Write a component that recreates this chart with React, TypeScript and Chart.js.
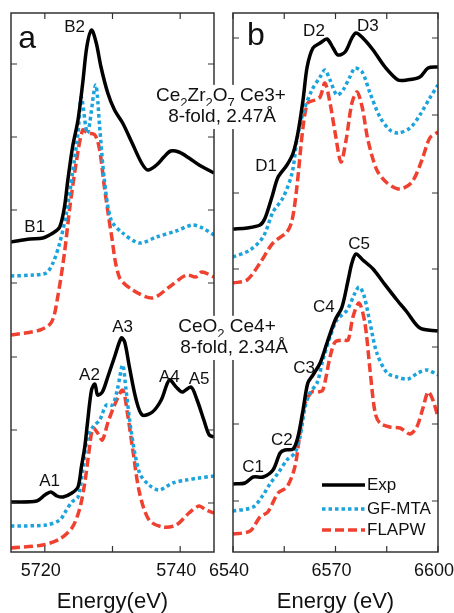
import React, { useEffect, useRef } from 'react';
import { Chart, registerables } from 'chart.js';
Chart.register(...registerables);

const FONT = "'Liberation Sans', Arial, Helvetica, sans-serif";
const BLACK = '#000000';
const BLUE = '#1aa3dc';
const RED = '#ef4030';
const TEXT = '#111111';

// ---------- Panel a (5715–5745 eV) ----------
// Ce2Zr2O7 (upper set)
const expTopA_E = [5715, 5717.8, 5719.7, 5721.2, 5722.2, 5722.9, 5723.4, 5724.1, 5724.9, 5725.6, 5726.2, 5726.9, 5727.6, 5728.3, 5729.3, 5730.3, 5731.5, 5732.9, 5734.3, 5735.2, 5736.5, 5737.6, 5738.6, 5739.8, 5741.3, 5742.8, 5745];
const expTopA_I = [31.0, 31.3, 31.4, 31.9, 32.5, 34.5, 37.2, 40.5, 43.2, 46.9, 50.5, 52.2, 50.9, 48.5, 45.9, 44.2, 42.9, 40.9, 38.9, 38.2, 38.7, 39.5, 40.1, 40.0, 39.4, 38.7, 37.9];
const gfTopA_E = [5715, 5718.3, 5720.2, 5721.2, 5722.2, 5723.2, 5724.1, 5724.9, 5725.4, 5726.3, 5727.5, 5728.1, 5728.8, 5729.8, 5731.5, 5734.0, 5736.5, 5739.4, 5741.8, 5743.3, 5745];
const gfTopA_I = [27.6, 27.7, 27.9, 28.9, 30.9, 33.9, 37.9, 41.9, 45.5, 41.9, 46.7, 42.5, 37.2, 33.2, 31.9, 30.9, 31.5, 32.1, 32.7, 32.4, 31.7];
const flTopA_E = [5715, 5719.3, 5721.0, 5721.9, 5722.9, 5723.7, 5724.7, 5725.6, 5726.3, 5727.4, 5728.1, 5728.8, 5729.8, 5731.0, 5733.0, 5735.9, 5738.4, 5740.9, 5742.3, 5743.2, 5745];
const flTopA_I = [21.7, 22.2, 23.0, 25.5, 29.9, 34.5, 39.2, 42.2, 41.9, 41.7, 40.2, 36.5, 31.9, 27.5, 26.2, 25.4, 26.5, 27.7, 27.5, 28.0, 27.5];
// CeO2 (lower set)
const expBotA_E = [5715, 5718.8, 5720, 5720.9, 5721.8, 5722.7, 5724.0, 5724.9, 5725.4, 5725.9, 5726.3, 5726.9, 5727.4, 5727.8, 5728.5, 5729.3, 5730.3, 5731.3, 5731.8, 5732.5, 5733.5, 5734.4, 5735.9, 5737.2, 5738.4, 5739.4, 5740.3, 5741.6, 5742.5, 5743.5, 5744.3, 5745];
const expBotA_I = [5.0, 5.1, 5.7, 6.0, 5.6, 5.5, 5.9, 6.5, 8.5, 10.5, 12.9, 16.2, 16.8, 15.7, 16.0, 17.5, 19.5, 21.4, 21.0, 18.5, 15.2, 13.7, 14.0, 15.2, 17.2, 16.5, 16.0, 16.5, 15.2, 13.2, 11.7, 11.5];
const gfBotA_E = [5715, 5720.2, 5722.2, 5723.2, 5724.0, 5724.9, 5725.6, 5726.3, 5727.1, 5728.1, 5729.1, 5730.0, 5730.7, 5731.5, 5732.0, 5732.8, 5734.0, 5735.4, 5736.9, 5738.9, 5740.9, 5742.8, 5745];
const gfBotA_I = [2.6, 2.7, 3.2, 4.2, 5.0, 5.5, 8.2, 11.5, 12.5, 13.2, 14.7, 14.7, 16.2, 18.7, 16.2, 11.9, 7.9, 6.7, 6.2, 6.9, 7.2, 7.4, 7.6];
const flBotA_E = [5715, 5719.7, 5722.2, 5724.0, 5725.1, 5725.9, 5726.5, 5727.1, 5727.8, 5728.5, 5729.3, 5730.3, 5731.5, 5732.2, 5733.0, 5734.0, 5735.4, 5737.4, 5739.4, 5741.3, 5742.8, 5743.8, 5745];
const flBotA_I = [0.4, 0.7, 1.3, 2.4, 4.2, 6.9, 9.9, 12.4, 11.9, 11.2, 12.9, 14.7, 16.2, 13.9, 10.2, 5.9, 3.2, 2.5, 2.7, 3.9, 4.6, 4.2, 3.9];

// ---------- Panel b (6540–6600 eV) ----------
const expTopB_E = [6540, 6544.1, 6547.9, 6549.4, 6551.4, 6553.2, 6555.8, 6557.6, 6559.0, 6560.5, 6561.7, 6563.4, 6565.5, 6567.5, 6569.3, 6570.7, 6572.8, 6574.8, 6576.0, 6578.0, 6581.0, 6584.5, 6588.3, 6590.9, 6594.7, 6597.1, 6600];
const expTopB_I = [32.3, 32.4, 32.7, 33.4, 35.5, 37.5, 38.7, 39.9, 41.9, 45.2, 48.5, 50.4, 50.9, 51.3, 50.4, 49.7, 50.0, 51.4, 51.9, 51.4, 50.2, 48.5, 47.2, 47.2, 47.5, 48.4, 48.5];
const gfTopB_E = [6540, 6545.0, 6548.8, 6551.7, 6554.6, 6557.3, 6558.7, 6560.5, 6563.1, 6565.5, 6566.9, 6568.4, 6570.4, 6572.2, 6574.2, 6575.7, 6577.8, 6580.1, 6583.0, 6585.9, 6588.3, 6591.8, 6594.7, 6597.6, 6600];
const gfTopB_I = [29.5, 30.2, 31.5, 34.0, 35.4, 37.9, 41.2, 43.9, 46.2, 47.5, 48.2, 47.2, 45.7, 46.2, 47.5, 48.4, 48.0, 45.9, 43.5, 42.2, 41.9, 42.4, 43.7, 45.4, 46.7];
const flTopB_E = [6540, 6544.1, 6547.9, 6551.7, 6555.8, 6557.3, 6558.7, 6560.5, 6561.9, 6564.0, 6565.5, 6566.9, 6568.4, 6569.9, 6571.6, 6573.1, 6574.8, 6576.3, 6577.8, 6579.5, 6582.1, 6585.1, 6588.9, 6592.4, 6595.3, 6597.6, 6600];
const flTopB_I = [26.9, 27.2, 28.9, 30.9, 32.0, 33.2, 36.5, 42.5, 44.9, 45.2, 45.5, 46.9, 44.9, 41.9, 39.0, 41.2, 44.9, 46.0, 44.5, 41.2, 38.2, 36.9, 36.3, 37.0, 39.2, 41.4, 42.0];
const expBotB_E = [6540, 6543.5, 6545.9, 6548.8, 6551.7, 6553.8, 6555.2, 6557.6, 6559.0, 6560.5, 6561.9, 6563.4, 6565.5, 6567.5, 6569.9, 6571.9, 6573.7, 6574.8, 6576.0, 6578.0, 6581.0, 6583.9, 6588.0, 6590.9, 6594.7, 6600];
const expBotB_I = [6.8, 6.9, 7.5, 7.5, 8.2, 9.9, 10.2, 10.3, 11.5, 14.2, 16.9, 17.7, 18.9, 20.9, 23.2, 24.5, 27.2, 28.9, 29.8, 29.2, 28.3, 27.0, 25.2, 24.0, 22.4, 22.1];
const gfBotB_E = [6540, 6545.9, 6548.8, 6550.8, 6553.2, 6555.8, 6558.1, 6559.6, 6561.1, 6562.5, 6564.6, 6566.3, 6568.4, 6570.4, 6573.4, 6575.7, 6576.9, 6578.3, 6580.1, 6582.1, 6585.1, 6588.0, 6591.2, 6594.1, 6596.8, 6600];
const gfBotB_I = [4.1, 4.5, 5.7, 6.8, 7.9, 9.2, 9.9, 11.5, 14.5, 15.9, 16.9, 19.2, 21.5, 23.2, 24.2, 25.9, 26.5, 25.7, 22.9, 19.9, 17.9, 17.5, 17.3, 17.9, 18.2, 17.7];
const flBotB_E = [6540, 6545.0, 6547.9, 6550.2, 6553.2, 6555.8, 6558.1, 6559.6, 6561.1, 6563.1, 6564.9, 6566.3, 6568.4, 6569.9, 6572.2, 6573.7, 6575.1, 6576.9, 6578.6, 6580.1, 6581.6, 6583.0, 6585.9, 6588.9, 6591.8, 6593.8, 6595.6, 6597.1, 6598.5, 6600];
const flBotB_I = [1.8, 2.1, 3.5, 4.0, 5.9, 6.5, 8.5, 11.9, 14.9, 16.0, 16.0, 16.2, 19.5, 21.0, 21.2, 21.2, 23.5, 24.9, 22.9, 18.2, 13.9, 12.9, 12.5, 12.4, 11.8, 12.5, 14.4, 16.0, 15.2, 13.5];

// ---------- Axes ----------
const xRangeA = [5715, 5745];
const xTicksA = [5720, 5730, 5740];
const xLabelsA = [5720, 5740];
const xRangeB = [6540, 6600];
const xTicksB = [6540, 6555, 6570, 6585, 6600];
const xLabelsB = [6540, 6570, 6600];
const yRange = [0, 53.9];
const yTicksA = [4.9, 12.2, 19.5, 26.9, 34.2, 41.5, 48.8];
const yTicksB = [5.1, 12.8, 20.5, 28.3, 35.9, 43.7, 51.4];
const xTitleA = 'Energy(eV)';
const xTitleB = 'Energy (eV)';

// ---------- Labels ----------
const panelLetterA = { text: 'a', e: 5717.4, v: 51.3 };
const panelLetterB = { text: 'b', e: 6546.7, v: 51.6 };
const peaksA = [
  { text: 'B2', e: 5724.4, v: 52.5 },
  { text: 'B1', e: 5718.5, v: 32.5 },
  { text: 'A1', e: 5720.7, v: 7.1 },
  { text: 'A2', e: 5726.6, v: 17.7 },
  { text: 'A3', e: 5731.5, v: 22.5 },
  { text: 'A4', e: 5738.4, v: 17.5 },
  { text: 'A5', e: 5742.8, v: 17.3 },
];
const peaksB = [
  { text: 'D2', e: 6563.7, v: 52.1 },
  { text: 'D3', e: 6579.5, v: 52.6 },
  { text: 'D1', e: 6549.7, v: 38.6 },
  { text: 'C5', e: 6576.9, v: 30.8 },
  { text: 'C4', e: 6566.6, v: 24.5 },
  { text: 'C3', e: 6560.8, v: 18.4 },
  { text: 'C2', e: 6554.3, v: 11.2 },
  { text: 'C1', e: 6545.9, v: 8.5 },
];
const seriesNames = ['Exp', 'GF-MTA', 'FLAPW'];
type Seg = { t: string; sub?: boolean };
const annotations: { segs: Seg[]; dx: number; v: number }[] = [
  { segs: [{ t: 'Ce' }, { t: '2', sub: true }, { t: 'Zr' }, { t: '2', sub: true }, { t: 'O' }, { t: '7', sub: true }, { t: ' Ce3+' }], dx: -12, v: 45.1 },
  { segs: [{ t: '8-fold, 2.47Å' }], dx: -11, v: 43.0 },
  { segs: [{ t: 'CeO' }, { t: '2', sub: true }, { t: ' Ce4+' }], dx: -6, v: 22.0 },
  { segs: [{ t: '8-fold, 2.34Å' }], dx: 1, v: 19.9 },
];

const styles = [
  { color: BLACK, width: 3.5, dash: [] as number[] },
  { color: BLUE, width: 3.5, dash: [3.5, 3] },
  { color: RED, width: 3.5, dash: [9, 4] },
];

function pts(E: number[], I: number[]) {
  return E.map((e, i) => ({ x: e, y: I[i] }));
}

function ds(label: string, k: number, E: number[], I: number[]) {
  const s = styles[k];
  return {
    label,
    data: pts(E, I),
    borderColor: s.color,
    borderWidth: s.width,
    borderDash: s.dash,
    borderJoinStyle: 'round',
    borderCapStyle: 'butt',
    pointRadius: 0,
    fill: false,
    tension: 0.3,
  };
}

function drawRich(ctx: CanvasRenderingContext2D, segs: Seg[], cx: number, baseline: number, size: number) {
  const sub = Math.round(size * 0.68);
  let w = 0;
  const widths = segs.map((s) => {
    ctx.font = `${s.sub ? sub : size}px ${FONT}`;
    const m = ctx.measureText(s.t).width;
    w += m;
    return m;
  });
  let x = cx - w / 2;
  ctx.fillStyle = '#ffffff';
  ctx.fillRect(x - 3, baseline - size * 0.85, w + 6, size * 1.22);
  ctx.fillStyle = TEXT;
  ctx.textAlign = 'left';
  ctx.textBaseline = 'alphabetic';
  segs.forEach((s, i) => {
    ctx.font = `${s.sub ? sub : size}px ${FONT}`;
    ctx.fillText(s.t, x, baseline + (s.sub ? size * 0.3 : 0));
    x += widths[i];
  });
}

function makePlugin(p: any) {
  return {
    id: 'decor' + p.id,
    afterDraw(chart: any) {
      const ctx: CanvasRenderingContext2D = chart.ctx;
      const { left, right, top, bottom } = chart.chartArea;
      const xs = chart.scales.x;
      const ys = chart.scales.y;
      ctx.save();
      // frame
      ctx.strokeStyle = '#333333';
      ctx.lineWidth = 1.5;
      ctx.setLineDash([]);
      ctx.strokeRect(left, top, right - left, bottom - top);
      // inward ticks
      ctx.lineWidth = 1.2;
      ctx.beginPath();
      p.xTicks.forEach((v: number) => {
        const px = xs.getPixelForValue(v);
        ctx.moveTo(px, bottom);
        ctx.lineTo(px, bottom - 6);
        ctx.moveTo(px, top);
        ctx.lineTo(px, top + 6);
      });
      p.yTicks.forEach((v: number) => {
        const py = ys.getPixelForValue(v);
        ctx.moveTo(left, py);
        ctx.lineTo(left + 6, py);
        ctx.moveTo(right, py);
        ctx.lineTo(right - 6, py);
      });
      ctx.stroke();
      // panel letter
      ctx.fillStyle = TEXT;
      ctx.textAlign = 'center';
      ctx.textBaseline = 'middle';
      ctx.font = `32px ${FONT}`;
      ctx.fillText(p.letter.text, xs.getPixelForValue(p.letter.e), ys.getPixelForValue(p.letter.v));
      // peak labels
      ctx.font = `17px ${FONT}`;
      p.peaks.forEach((pk: any) => {
        ctx.fillText(pk.text, xs.getPixelForValue(pk.e), ys.getPixelForValue(pk.v));
      });
      if (p.withExtras) {
        annotations.forEach((a) => {
          drawRich(ctx, a.segs, left + a.dx, ys.getPixelForValue(a.v), 19);
        });
        const lx0 = right - 116;
        const lx1 = right - 73;
        const rows = [bottom - 67, bottom - 43, bottom - 22];
        seriesNames.forEach((name, i) => {
          const s = styles[i];
          ctx.strokeStyle = s.color;
          ctx.lineWidth = s.width;
          ctx.setLineDash(s.dash);
          ctx.beginPath();
          ctx.moveTo(lx0, rows[i]);
          ctx.lineTo(lx1, rows[i]);
          ctx.stroke();
          ctx.setLineDash([]);
          ctx.fillStyle = TEXT;
          ctx.font = `17px ${FONT}`;
          ctx.textAlign = 'left';
          ctx.textBaseline = 'middle';
          ctx.fillText(name, lx1 + 2, rows[i]);
        });
      }
      ctx.restore();
    },
  };
}

function makeConfig(p: any): any {
  return {
    type: 'line',
    data: { datasets: p.datasets },
    options: {
      responsive: false,
      animation: false,
      events: [],
      layout: { padding: p.padding },
      plugins: { legend: { display: false }, tooltip: { enabled: false } },
      scales: {
        x: {
          type: 'linear',
          min: p.xRange[0],
          max: p.xRange[1],
          afterBuildTicks: (s: any) => {
            s.ticks = p.xTicks.map((v: number) => ({ value: v }));
          },
          afterFit: (s: any) => {
            s.height = 61;
            s.paddingLeft = 0;
            s.paddingRight = 0;
          },
          grid: { display: false, drawTicks: false },
          border: { display: false },
          ticks: {
            autoSkip: false,
            maxRotation: 0,
            padding: 8,
            labelOffset: -4,
            color: TEXT,
            font: { size: 18, family: FONT },
            callback: (v: number) => (p.xLabels.includes(v) ? String(v) : ''),
          },
          title: {
            display: true,
            text: p.title,
            color: TEXT,
            font: { size: 22, family: FONT, lineHeight: 1 },
            padding: { top: 0, bottom: 0 },
          },
        },
        y: { type: 'linear', display: false, min: yRange[0], max: yRange[1] },
      },
    },
    plugins: [makePlugin(p)],
  };
}

export default function App() {
  const refA = useRef<HTMLCanvasElement>(null);
  const refB = useRef<HTMLCanvasElement>(null);
  useEffect(() => {
    Chart.defaults.font.family = FONT;
    const pA = {
      id: 'A',
      datasets: [
        ds('Exp', 0, expTopA_E, expTopA_I),
        ds('Exp', 0, expBotA_E, expBotA_I),
        ds('GF-MTA', 1, gfTopA_E, gfTopA_I),
        ds('GF-MTA', 1, gfBotA_E, gfBotA_I),
        ds('FLAPW', 2, flTopA_E, flTopA_I),
        ds('FLAPW', 2, flBotA_E, flBotA_I),
      ],
      padding: { left: 11, right: 240, top: 13, bottom: 0 },
      xRange: xRangeA,
      xTicks: xTicksA,
      xLabels: xLabelsA,
      yTicks: yTicksA,
      title: xTitleA,
      letter: panelLetterA,
      peaks: peaksA,
      withExtras: false,
    };
    const pB = {
      id: 'B',
      datasets: [
        ds('Exp', 0, expTopB_E, expTopB_I),
        ds('Exp', 0, expBotB_E, expBotB_I),
        ds('GF-MTA', 1, gfTopB_E, gfTopB_I),
        ds('GF-MTA', 1, gfBotB_E, gfBotB_I),
        ds('FLAPW', 2, flTopB_E, flTopB_I),
        ds('FLAPW', 2, flBotB_E, flBotB_I),
      ],
      padding: { left: 233, right: 16, top: 13, bottom: 0 },
      xRange: xRangeB,
      xTicks: xTicksB,
      xLabels: xLabelsB,
      yTicks: yTicksB,
      title: xTitleB,
      letter: panelLetterB,
      peaks: peaksB,
      withExtras: true,
    };
    const cA = new Chart(refA.current as HTMLCanvasElement, makeConfig(pA));
    const cB = new Chart(refB.current as HTMLCanvasElement, makeConfig(pB));
    return () => {
      cA.destroy();
      cB.destroy();
    };
  }, []);
  const cs: React.CSSProperties = { position: 'absolute', left: 0, top: 0, width: 454, height: 613 };
  return (
    <div style={{ position: 'absolute', left: 0, top: 0, width: 454, height: 613, background: '#ffffff', overflow: 'hidden' }}>
      <canvas ref={refA} width={454} height={613} style={cs} />
      <canvas ref={refB} width={454} height={613} style={cs} />
    </div>
  );
}
